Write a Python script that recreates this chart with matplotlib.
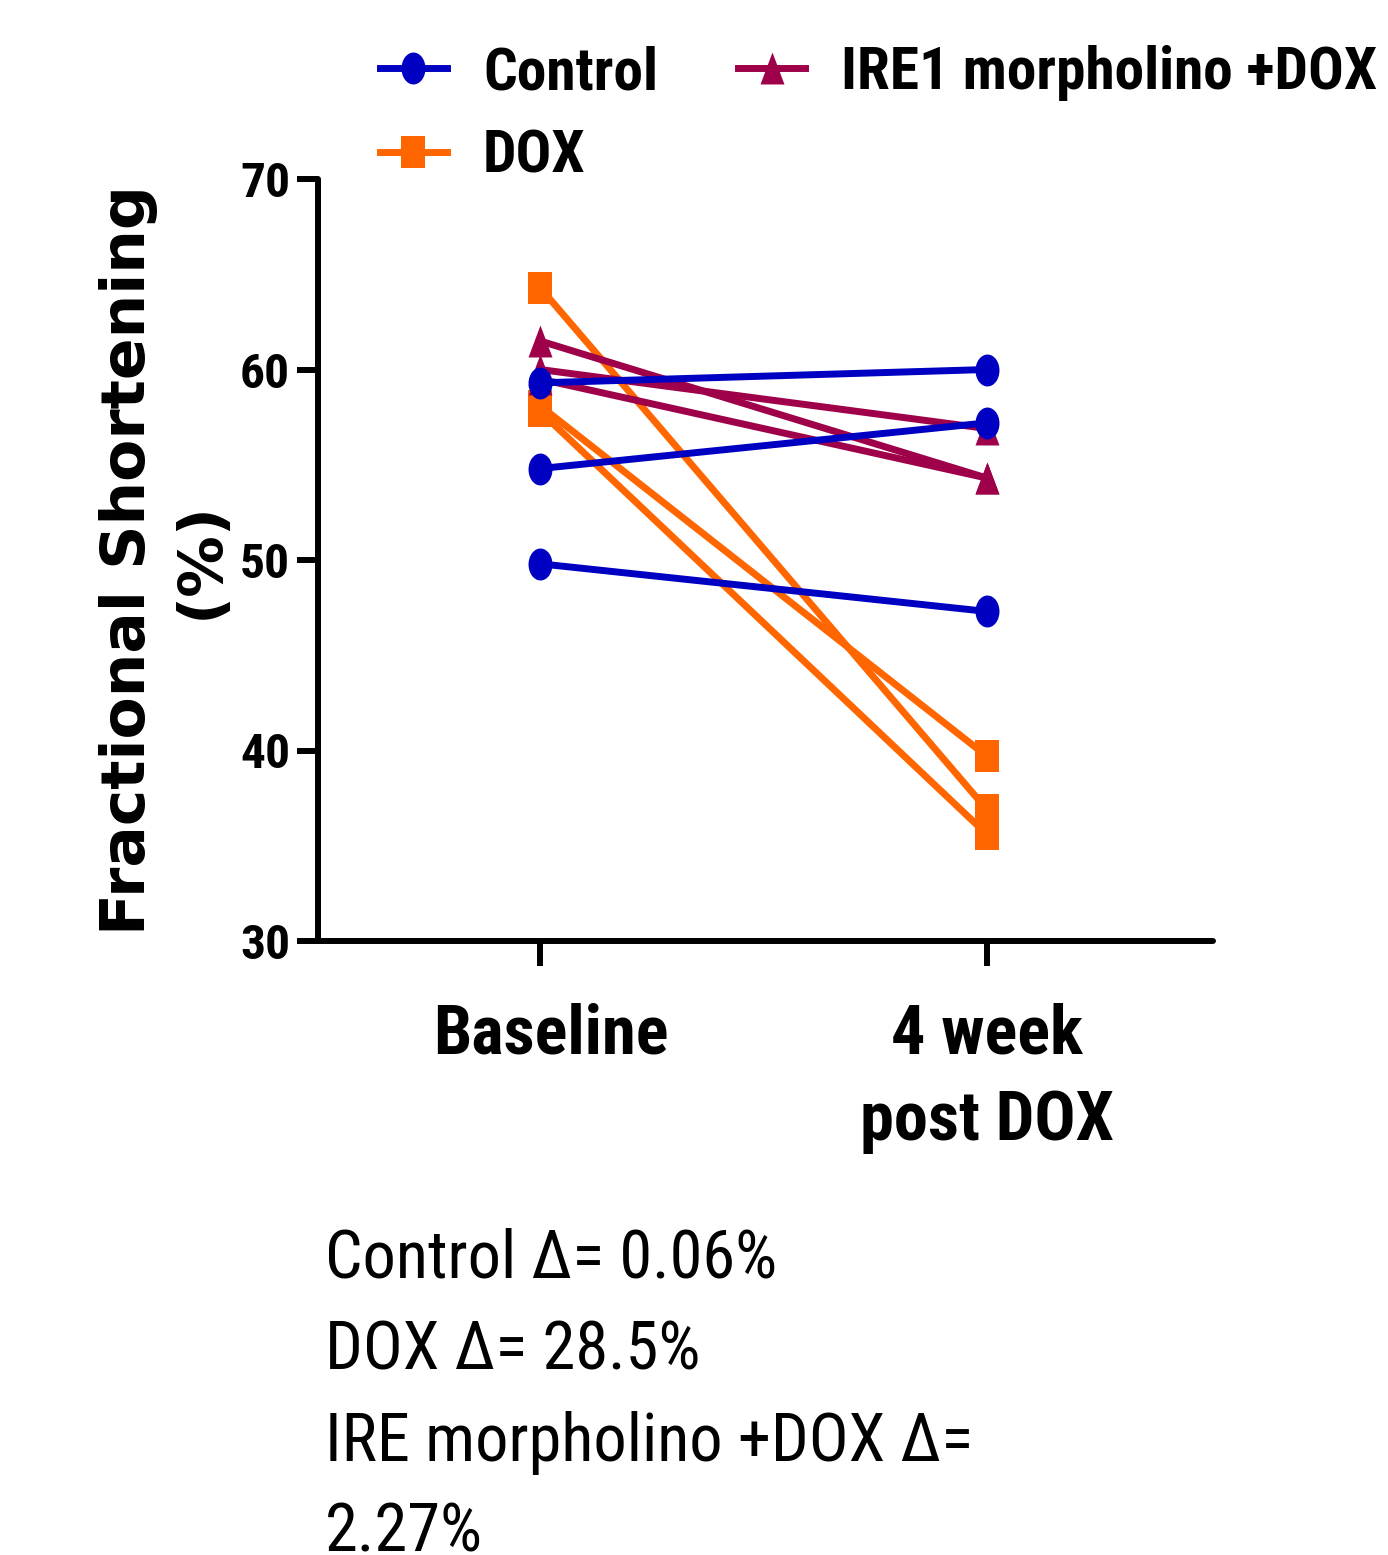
import matplotlib
matplotlib.use("Agg")
import matplotlib.pyplot as plt
from matplotlib.path import Path
from matplotlib.transforms import Affine2D, ScaledTranslation
from matplotlib import font_manager

# ---------------- data ----------------
categories = ["Baseline", "4 week\npost DOX"]
control_baseline = [59.3, 54.8, 49.8]
control_week4 = [60.0, 57.2, 47.3]
dox_baseline = [64.3, 58.1, 57.8]
dox_week4 = [36.9, 39.7, 35.6]
ire1_baseline = [61.5, 60.0, 59.5]
ire1_week4 = [54.3, 56.9, 54.3]
yticks = [30, 40, 50, 60, 70]
legend_labels = ["Control", "DOX", "IRE1 morpholino +DOX"]
annotations = ["Control \u0394= 0.06%", "DOX \u0394= 28.5%",
               "IRE morpholino +DOX \u0394=", "2.27%"]

names = {f.name for f in font_manager.fontManager.ttflist}
prefs = ["Liberation Sans Narrow", "Arial Narrow", "Roboto Condensed",
         "Archivo Narrow", "PT Sans Narrow", "Encode Sans Condensed",
         "Sofia Sans Condensed", "Liberation Sans"]
narrow = next(p for p in prefs if p in names)
NARROW = [narrow, "DejaVu Sans"]

W, H = 1388, 1555
fig = plt.figure(figsize=(W / 100, H / 100), dpi=100)
renderer = fig.canvas.get_renderer()


def fit(txt, target, family, weight="normal", base=40.0):
    t = fig.text(0, 0, txt, fontfamily=family, fontweight=weight, fontsize=base)
    w = t.get_window_extent(renderer).width
    t.remove()
    return base * target / w


fs_tick = fit("70", 50, NARROW, "bold")
fs_cat = (fit("Baseline", 231, NARROW, "bold") + fit("post DOX", 258, NARROW, "bold")) / 2
fs_leg = (fit("IRE1 morpholino +DOX", 544, NARROW, "bold") + fit("Control", 172, NARROW, "bold")) / 2
fs_note = (fit(annotations[0], 447, NARROW) + fit(annotations[2], 655, NARROW)) / 2
fs_ylab = fit("Fractional Shortening", 750, "DejaVu Sans", "bold")

ax = fig.add_axes([318 / W, 1 - 941 / H, (1213 - 318) / W, (941 - 179) / H])

# stretched markers (the reference is vertically stretched)
ell = Path.unit_circle().transformed(Affine2D().scale(0.75, 1.0))
sq = Path([(-0.75, -1), (0.75, -1), (0.75, 1), (-0.75, 1), (-0.75, -1)],
          [Path.MOVETO, Path.LINETO, Path.LINETO, Path.LINETO, Path.CLOSEPOLY])
tri = Path([(-0.75, -1), (0.75, -1), (0, 1), (-0.75, -1)],
           [Path.MOVETO, Path.LINETO, Path.LINETO, Path.CLOSEPOLY])

c_blue = "#0000C2"
c_orange = "#FF6600"
c_purple = "#9E0049"
lw = 5.0
ms = 23

x = [0, 1]
handles = {}
for b, w in zip(dox_baseline, dox_week4):
    h, = ax.plot(x, [b, w], color=c_orange, lw=lw, marker=sq, ms=ms,
                 markeredgewidth=0, zorder=2, clip_on=False)
handles["DOX"] = h
for b, w in zip(ire1_baseline, ire1_week4):
    h, = ax.plot(x, [b, w], color=c_purple, lw=lw, marker=tri, ms=ms,
                 markeredgewidth=0, zorder=3, clip_on=False)
handles["IRE1"] = h
for b, w in zip(control_baseline, control_week4):
    h, = ax.plot(x, [b, w], color=c_blue, lw=lw, marker=ell, ms=ms,
                 markeredgewidth=0, zorder=4, clip_on=False)
handles["Control"] = h

ax.set_xlim(-0.497, 1.506)
ax.set_ylim(30, 70)
ax.set_yticks(yticks)
ax.set_xticks(x)
ax.set_xticklabels(categories, fontfamily=NARROW, fontweight="bold",
                   fontsize=fs_cat, linespacing=1.42)
ax.set_yticklabels([str(t) for t in yticks], fontfamily=NARROW,
                   fontweight="bold", fontsize=fs_tick)
for s in ["top", "right"]:
    ax.spines[s].set_visible(False)
for s in ["left", "bottom"]:
    ax.spines[s].set_linewidth(4.3)
    ax.spines[s].set_capstyle("round")
ax.tick_params(axis="y", length=15, width=4.3, pad=5, direction="out")
ax.tick_params(axis="x", length=18, width=4.3, pad=26, direction="out")
ax.patch.set_alpha(0)
# the first category label sits slightly right of its tick in the reference
lab0 = ax.get_xticklabels()[0]
lab0.set_transform(lab0.get_transform() + ScaledTranslation(11 / 100, 0, fig.dpi_scale_trans))

fig.text(165 / W, 1 - 560 / H, "Fractional Shortening\n(%)", rotation=90,
         ha="center", va="center", multialignment="center",
         fontfamily="DejaVu Sans", fontweight="bold", fontsize=fs_ylab,
         linespacing=1.3)

fpx = fs_leg * 100 / 72
leg = fig.legend([handles["Control"], handles["DOX"], handles["IRE1"]],
                 legend_labels,
                 loc="upper left", bbox_to_anchor=(380 / W, 1 - 45 / H),
                 bbox_transform=fig.transFigure, ncol=2, frameon=False,
                 borderpad=0, borderaxespad=0, handlelength=67 / fpx,
                 handletextpad=36 / fpx,
                 columnspacing=80 / fpx, labelspacing=0.47,
                 numpoints=1, markerscale=1.0,
                 prop={"family": NARROW, "weight": "bold", "size": fs_leg})

baselines = [1277, 1369, 1461, 1551]
for txt, yb in zip(annotations, baselines):
    fig.text(325 / W, 1 - yb / H, txt, ha="left", va="baseline",
             fontfamily=NARROW, fontsize=fs_note)

fig.savefig("out.png", dpi=100)
